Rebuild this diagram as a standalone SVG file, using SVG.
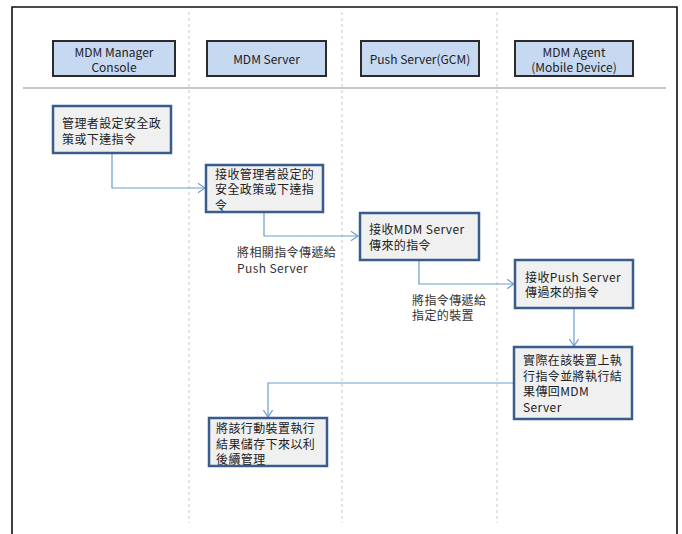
<svg xmlns="http://www.w3.org/2000/svg" width="682" height="534" viewBox="0 0 682 534">
<defs>
<style>
.frame{fill:none;stroke:#111;stroke-width:1.6}
.lane{stroke:#c8c8c8;stroke-width:1;stroke-dasharray:3,3;fill:none}
.sep{stroke:#b4b4b4;stroke-width:1.5;fill:none}
.hdr{fill:#c6d9f1;stroke:#2b2b2b;stroke-width:2}
.proc{fill:#f0f0f0;stroke:#385d8a;stroke-width:2.5}
.conn{fill:none;stroke:#6b9bd2;stroke-width:1.2;marker-end:url(#arr)}
text{font-family:"Noto Sans CJK TC","Noto Sans",sans-serif;fill:#222}
.h{font-size:12px;text-anchor:middle;dominant-baseline:central}
.t{font-size:12px;letter-spacing:0.4px;dominant-baseline:central}
.l{font-size:12px;letter-spacing:0.4px;dominant-baseline:central;fill:#333}
</style>
<marker id="arr" viewBox="0 0 8 10" refX="7.5" refY="5" markerWidth="8" markerHeight="10" markerUnits="userSpaceOnUse" orient="auto">
<path d="M0,0 L7.5,5 L0,10" fill="none" stroke="#6b9bd2" stroke-width="1.2"/>
</marker>
</defs>
<rect x="0" y="0" width="682" height="534" fill="#fff"/>
<path class="frame" d="M12,536 V7 H677 V536"/>
<g id="lanes">
<line class="lane" x1="189" y1="12" x2="189" y2="523"/>
<line class="lane" x1="342" y1="12" x2="342" y2="523"/>
<line class="lane" x1="497" y1="12" x2="497" y2="523"/>
</g>
<line class="sep" x1="23" y1="88" x2="666" y2="88"/>
<g id="h1"><rect class="hdr" x="53" y="41" width="122" height="35"/><text class="h" x="114" y="51">MDM Manager</text><text class="h" x="114" y="66.5">Console</text></g>
<g id="h2"><rect class="hdr" x="207" y="41" width="119" height="35"/><text class="h" x="266.5" y="58.5">MDM Server</text></g>
<g id="h3"><rect class="hdr" x="361" y="41" width="118" height="35"/><text class="h" x="420" y="58.5">Push Server(GCM)</text></g>
<g id="h4"><rect class="hdr" x="515" y="41" width="118" height="35"/><text class="h" x="574" y="51">MDM Agent</text><text class="h" x="574" y="66.5">(Mobile Device)</text></g>
<g id="connectors">
<path class="conn" d="M112,153 V188 H205"/>
<path class="conn" d="M264,212 V236 H358"/>
<path class="conn" d="M419,260 V284 H514"/>
<path class="conn" d="M574,308 V346"/>
<path class="conn" d="M514,383 H268 V417"/>
</g>
<g id="lbl1"><text class="l" x="237" y="251.5">將相關指令傳遞給</text><text class="l" x="237" y="267">Push Server</text></g>
<g id="lbl2"><text class="l" x="412" y="299">將指令傳遞給</text><text class="l" x="412" y="314.5">指定的裝置</text></g>
<g id="nA"><rect class="proc" x="53" y="106" width="118" height="47"/><text class="t" x="62" y="122.5">管理者設定安全政</text><text class="t" x="62" y="138">策或下達指令</text></g>
<g id="nB"><rect class="proc" x="206" y="165" width="117" height="47"/><text class="t" x="215" y="173">接收管理者設定的</text><text class="t" x="215" y="188.5">安全政策或下達指</text><text class="t" x="215" y="204">令</text></g>
<g id="nC"><rect class="proc" x="360" y="213" width="119" height="47"/><text class="t" x="369" y="228.5">接收MDM Server</text><text class="t" x="369" y="244">傳來的指令</text></g>
<g id="nD"><rect class="proc" x="515" y="260" width="118" height="48"/><text class="t" x="525" y="276">接收Push Server</text><text class="t" x="525" y="291.5">傳過來的指令</text></g>
<g id="nE"><rect class="proc" x="514" y="347" width="118" height="72"/><text class="t" x="523" y="359.5">實際在該裝置上執</text><text class="t" x="523" y="375">行指令並將執行結</text><text class="t" x="523" y="390.5">果傳回MDM</text><text class="t" x="523" y="406">Server</text></g>
<g id="nF"><rect class="proc" x="209" y="418" width="118" height="48"/><text class="t" x="216" y="427.5">將該行動裝置執行</text><text class="t" x="216" y="443">結果儲存下來以利</text><text class="t" x="216" y="458.5">後續管理</text></g>
</svg>
